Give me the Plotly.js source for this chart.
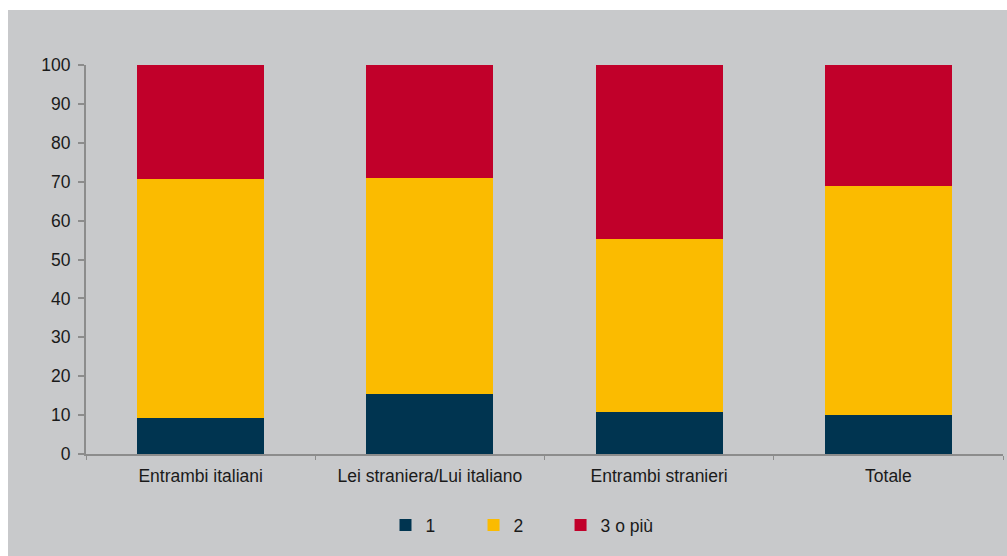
<!DOCTYPE html>
<html>
<head>
<meta charset="utf-8">
<script src="https://cdn.plot.ly/plotly-3.0.1.min.js"></script>
<style>
html,body{margin:0;padding:0;background:#ffffff;}
#chart{position:absolute;left:8px;top:10px;width:999px;height:546px;}
</style>
</head>
<body>
<div id="chart"></div>
<script>
const categories = ["Entrambi italiani", "Lei straniera/Lui italiano", "Entrambi stranieri", "Totale"];
const seriesNames = ["1", "2", "3 o più"];
const values1 = [9.3, 15.4, 10.7, 10.0];
const values2 = [61.4, 55.6, 44.6, 58.9];
const values3 = [29.3, 29.0, 44.7, 31.1];
const yTicks = [0, 10, 20, 30, 40, 50, 60, 70, 80, 90, 100];

const colors = ["#003450", "#fbbb00", "#c1002a"];
const allValues = [values1, values2, values3];
const legendIds = ["legend", "legend2", "legend3"];
const legendX = [0.3266, 0.4226, 0.5175];

const traces = allValues.map((v, i) => ({
  type: "bar",
  name: seriesNames[i],
  x: categories,
  y: v,
  legend: legendIds[i],
  marker: {color: colors[i], line: {width: 0}},
  hoverinfo: "skip"
}));

const legendBase = {
  orientation: "h",
  xanchor: "left",
  y: -0.183, yanchor: "middle",
  bgcolor: "rgba(0,0,0,0)",
  itemwidth: 30,
  font: {size: 17.5, color: "#1a1a1a"}
};

const layout = {
  width: 999,
  height: 546,
  barmode: "stack",
  bargap: 0.446,
  paper_bgcolor: "#c8c9cb",
  plot_bgcolor: "#c8c9cb",
  margin: {l: 78, r: 4, t: 55, b: 102},
  font: {family: "Liberation Sans, Arial, sans-serif", size: 17.5, color: "#1a1a1a"},
  showlegend: true,
  xaxis: {
    type: "category",
    showline: true, linecolor: "#8c8c8c", linewidth: 2,
    ticks: "outside", ticklen: 4, tickcolor: "#8c8c8c", tickwidth: 1,
    tickson: "boundaries",
    showgrid: false, zeroline: false,
    tickfont: {size: 17.5, color: "#1a1a1a"},
    ticklabelstandoff: 5,
    fixedrange: true
  },
  yaxis: {
    range: [0, 100],
    tickvals: yTicks,
    ticktext: yTicks.map(String),
    showline: true, linecolor: "#8c8c8c", linewidth: 2,
    ticks: "outside", ticklen: 6, tickcolor: "#8c8c8c", tickwidth: 2,
    showgrid: false, zeroline: false,
    tickfont: {size: 17.5, color: "#1a1a1a"},
    ticklabelstandoff: 4,
    fixedrange: true
  }
};
legendIds.forEach((id, i) => {
  layout[id] = Object.assign({}, legendBase, {x: legendX[i]});
});

Plotly.newPlot("chart", traces, layout, {displayModeBar: false, staticPlot: true});
</script>
</body>
</html>
